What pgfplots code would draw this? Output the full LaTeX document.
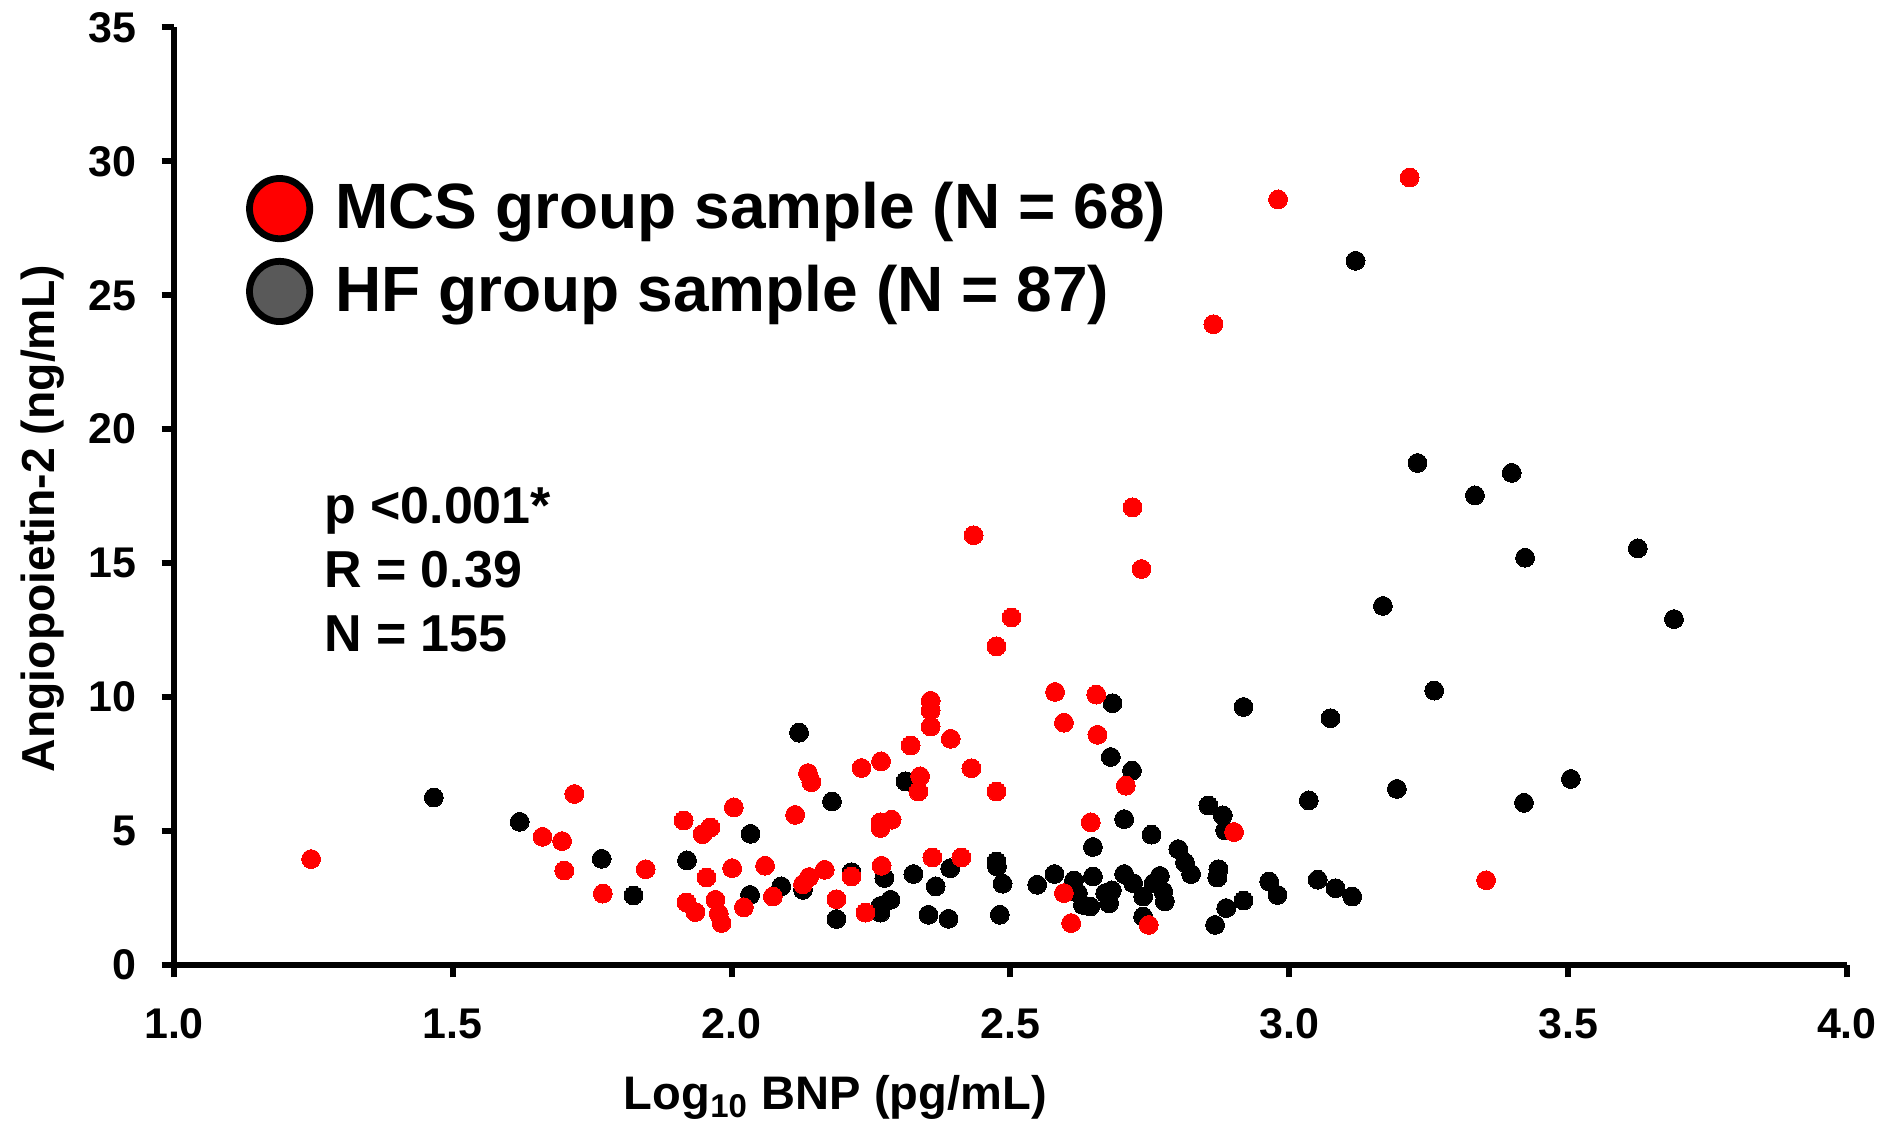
\documentclass[border=0pt]{standalone}
\usepackage{pgfplots}
\pgfplotsset{compat=1.18}
\usepackage{fontspec}
\setmainfont{Liberation Sans}
\usetikzlibrary{calc}
\definecolor{hfgray}{RGB}{89,89,89}
\definecolor{mcsred}{RGB}{255,0,0}
\begin{document}
\begin{tikzpicture}
\begin{axis}[
  name=ax,
  scale only axis,
  width=444.2pt, height=248.9pt,
  xmin=1, xmax=4, ymin=0, ymax=35,
  xtick={1,1.5,2,2.5,3,3.5,4},
  ytick={0,5,10,15,20,25,30,35},
  axis x line*=bottom, axis y line*=left,
  axis line style={-, line width=1.6pt, black},
  tick style={line width=1.6pt, black},
  tick align=outside,
  major tick length=3.3pt,
  minor tick num=0,
  /pgf/number format/assume math mode=true,
  tick label style={font=\bfseries\fontsize{11.4}{13}\selectfont},
  xticklabel style={/pgf/number format/fixed, /pgf/number format/fixed zerofill, /pgf/number format/precision=1, yshift=-4.8pt},
  yticklabel style={xshift=-3.2pt},
  xlabel={Log\textsubscript{10} BNP (pg/mL)},
  ylabel={Angiopoietin-2 (ng/mL)},
  xlabel style={font=\bfseries\fontsize{12.5}{15}\selectfont, at={(axis description cs:0.3954,-0.1547)}, anchor=base},
  ylabel style={font=\bfseries\fontsize{12.3}{15}\selectfont, at={(axis description cs:-0.0783,0.476)}, anchor=center},
  legend style={draw=none, fill=none, at={(axis cs:1.128,26.69)}, anchor=west, inner sep=0pt, row sep=4.2pt,
    nodes={inner sep=0pt, font=\bfseries\fontsize{17}{20}\selectfont}},
  legend cell align=left,
  clip=false,
]
% HF group (black)
\addplot[only marks, mark=*, mark size=2.5pt, color=black, mark options={fill=black, draw=black, line width=0pt}, forget plot] coordinates {
(1.466,6.25) (1.620,5.34) (1.767,3.96) (1.824,2.59) (2.121,8.67) (2.180,6.10) (2.312,6.85) (2.034,4.89)
(1.920,3.90) (2.128,2.80) (2.089,2.93) (2.033,2.61) (2.215,3.46) (2.188,1.71) (2.267,1.95) (2.285,2.43)
(2.274,3.24) (2.326,3.39) (2.366,2.93) (2.392,3.61) (2.353,1.87) (2.389,1.72) (2.475,3.86) (2.476,3.67)
(2.486,3.03) (2.481,1.87) (2.548,2.99) (2.579,3.39) (2.614,3.15) (2.621,2.68) (2.630,2.24) (2.643,2.18)
(2.648,3.30) (2.648,4.40) (2.683,9.77) (2.680,7.76) (2.718,7.25) (2.704,5.44) (2.753,4.86) (2.801,4.32)
(2.813,3.82) (2.824,3.39) (2.704,3.39) (2.720,3.05) (2.768,3.32) (2.757,3.05) (2.774,2.74) (2.738,2.55)
(2.777,2.37) (2.682,2.78) (2.670,2.68) (2.677,2.30) (2.738,1.80) (2.855,5.95) (2.881,5.58) (2.885,5.02)
(2.873,3.57) (2.871,3.26) (2.918,2.40) (2.887,2.12) (2.867,1.49) (2.918,9.63) (2.964,3.11) (2.979,2.61)
(3.035,6.14) (3.051,3.18) (3.083,2.86) (3.113,2.55) (3.074,9.21) (3.260,10.24) (3.193,6.57) (3.421,6.05)
(3.505,6.94) (3.119,26.29) (3.230,18.74) (3.399,18.37) (3.333,17.53) (3.423,15.20) (3.625,15.55) (3.168,13.40)
(3.690,12.91) (2.267,2.20)
};
% MCS group (red)
\addplot[only marks, mark=*, mark size=2.5pt, color=mcsred, mark options={fill=mcsred, draw=mcsred, line width=0pt}, forget plot] coordinates {
(1.246,3.95) (1.661,4.78) (1.696,4.62) (1.718,6.38) (1.700,3.52) (1.769,2.66) (1.846,3.57) (2.475,11.89)
(2.580,10.19) (2.654,10.09) (2.596,9.04) (2.656,8.59) (2.357,9.86) (2.357,9.50) (2.357,8.90) (2.393,8.44)
(2.321,8.19) (2.268,7.60) (2.233,7.35) (2.430,7.34) (2.338,7.04) (2.335,6.47) (2.475,6.47) (2.137,7.16)
(2.143,6.82) (2.114,5.60) (2.004,5.88) (1.914,5.39) (1.962,5.13) (1.948,4.88) (2.287,5.42) (2.267,5.32)
(2.267,5.11) (2.644,5.32) (1.955,3.26) (2.001,3.61) (2.060,3.70) (2.167,3.55) (2.139,3.28) (2.128,3.01)
(2.074,2.55) (2.022,2.15) (1.919,2.33) (1.935,1.97) (1.971,2.43) (1.977,1.91) (1.982,1.56) (2.215,3.30)
(2.188,2.45) (2.240,1.95) (2.269,3.70) (2.360,4.01) (2.412,4.01) (2.596,2.68) (2.609,1.56) (2.707,6.69)
(2.748,1.49) (2.901,4.96) (3.353,3.16) (2.980,28.58) (3.216,29.40) (2.864,23.92) (2.719,17.08) (2.434,16.04)
(2.735,14.78) (2.502,12.97)
};
\addlegendimage{legend image code/.code={\draw[fill=mcsred, draw=black, line width=1.8pt] (0pt,0pt) circle (8.0pt); \path (14.6pt,0pt);}}
\addlegendentry{MCS group sample (N = 68)}
\addlegendimage{legend image code/.code={\draw[fill=hfgray, draw=black, line width=1.8pt] (0pt,0pt) circle (8.0pt); \path (14.6pt,0pt);}}
\addlegendentry{HF group sample (N = 87)}
\node[anchor=base west, align=left, inner sep=0pt, font=\bfseries\fontsize{13.8}{17}\selectfont] at (axis cs:1.268,11.7) {p <0.001*\\R = 0.39\\N = 155};
\end{axis}
\pgfresetboundingbox
\path ($(ax.south west)+(-46.2pt,-42.2pt)$) rectangle ($(ax.north east)+(9.6pt,7.3pt)$);
\end{tikzpicture}
\end{document}
